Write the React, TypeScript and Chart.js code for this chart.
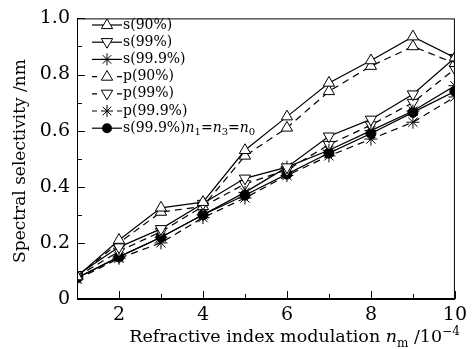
import React, { useEffect, useRef } from "react";
import { Chart, registerables } from "chart.js";

Chart.register(...registerables);

const xValues = [1, 2, 3, 4, 5, 6, 7, 8, 9, 10];
const s90 = [0.08, 0.21, 0.325, 0.345, 0.53, 0.65, 0.77, 0.85, 0.935, 0.86];
const s99 = [0.085, 0.185, 0.25, 0.34, 0.43, 0.47, 0.58, 0.64, 0.73, 0.86];
const s999 = [0.075, 0.15, 0.22, 0.3, 0.38, 0.47, 0.53, 0.6, 0.67, 0.76];
const p90 = [0.08, 0.2, 0.31, 0.33, 0.51, 0.61, 0.74, 0.83, 0.9, 0.84];
const p99 = [0.08, 0.17, 0.24, 0.33, 0.41, 0.46, 0.55, 0.62, 0.7, 0.82];
const p999 = [0.07, 0.145, 0.2, 0.29, 0.36, 0.44, 0.51, 0.57, 0.63, 0.72];
const s999n = [0.075, 0.15, 0.22, 0.3, 0.37, 0.445, 0.52, 0.59, 0.665, 0.74];

const xTickValues = [2, 4, 6, 8, 10];
const xMinorValues = [1, 3, 5, 7, 9];
const yTickValues = [0, 0.2, 0.4, 0.6, 0.8, 1.0];
const yMinorValues = [0.1, 0.3, 0.5, 0.7, 0.9];

const labels = ["s(90%)", "s(99%)", "s(99.9%)", "p(90%)", "p(99%)", "p(99.9%)", "s(99.9%)"];
const markers = ["up", "down", "star", "up", "down", "star", "circle"];
const dashedFlags = [false, false, false, true, true, true, false];
const seriesList = [s90, s99, s999, p90, p99, p999, s999n];

const SERIF = "'DejaVu Serif', 'Liberation Serif', serif";
const DASH = [7, 5];

function drawMarker(ctx: CanvasRenderingContext2D, kind: string, x: number, y: number) {
  ctx.save();
  ctx.setLineDash([]);
  ctx.lineWidth = 1;
  ctx.strokeStyle = "#000";
  const r = 6;
  if (kind === "up" || kind === "down") {
    const s = kind === "up" ? 1 : -1;
    ctx.beginPath();
    ctx.moveTo(x, y - s * r);
    ctx.lineTo(x - r * 0.95, y + s * r * 0.6);
    ctx.lineTo(x + r * 0.95, y + s * r * 0.6);
    ctx.closePath();
    ctx.fillStyle = "#fff";
    ctx.fill();
    ctx.stroke();
  } else if (kind === "star") {
    ctx.beginPath();
    for (let i = 0; i < 4; i++) {
      const a = (i * Math.PI) / 4;
      ctx.moveTo(x - Math.cos(a) * r, y - Math.sin(a) * r);
      ctx.lineTo(x + Math.cos(a) * r, y + Math.sin(a) * r);
    }
    ctx.stroke();
  } else {
    ctx.beginPath();
    ctx.arc(x, y, 5, 0, Math.PI * 2);
    ctx.fillStyle = "#000";
    ctx.fill();
  }
  ctx.restore();
}

type Run = { t: string; italic?: boolean; sub?: boolean; sup?: boolean };

function drawRuns(ctx: CanvasRenderingContext2D, runs: Run[], x: number, y: number, size: number) {
  let cx = x;
  for (const r of runs) {
    const fs = r.sub || r.sup ? Math.round(size * 0.68) : size;
    ctx.font = `${r.italic ? "italic " : ""}${fs}px ${SERIF}`;
    const dy = r.sub ? size * 0.3 : r.sup ? -size * 0.42 : 0;
    ctx.fillText(r.t, cx, y + dy);
    cx += ctx.measureText(r.t).width;
  }
  return cx;
}

const customPlugin = {
  id: "custom",
  afterDatasetsDraw(chart: any) {
    const ctx: CanvasRenderingContext2D = chart.ctx;
    const area = chart.chartArea;
    const xs = chart.scales.x;
    const ys = chart.scales.y;
    ctx.save();
    ctx.strokeStyle = "#000";
    ctx.lineWidth = 1;
    ctx.setLineDash([]);
    ctx.strokeRect(area.left + 0.5, area.top + 0.5, area.right - area.left - 1, area.bottom - area.top - 1);
    ctx.beginPath();
    for (const v of xTickValues) {
      const px = Math.round(xs.getPixelForValue(v)) + 0.5;
      ctx.moveTo(px, area.bottom);
      ctx.lineTo(px, area.bottom - 8);
    }
    for (const v of xMinorValues) {
      const px = Math.round(xs.getPixelForValue(v)) + 0.5;
      ctx.moveTo(px, area.bottom);
      ctx.lineTo(px, area.bottom - 5);
    }
    for (const v of yTickValues) {
      const py = Math.round(ys.getPixelForValue(v)) + 0.5;
      ctx.moveTo(area.left, py);
      ctx.lineTo(area.left + 8, py);
    }
    for (const v of yMinorValues) {
      const py = Math.round(ys.getPixelForValue(v)) + 0.5;
      ctx.moveTo(area.left, py);
      ctx.lineTo(area.left + 5, py);
    }
    ctx.stroke();

    // legend
    const lx0 = 92;
    const lx1 = 122;
    const ly0 = 25;
    const lstep = 17.2;
    ctx.fillStyle = "#000";
    ctx.textBaseline = "middle";
    ctx.textAlign = "left";
    labels.forEach((lab, i) => {
      const y = ly0 + i * lstep;
      ctx.save();
      ctx.lineWidth = 1.2;
      ctx.strokeStyle = "#000";
      if (dashedFlags[i]) {
        ctx.beginPath();
        ctx.moveTo(lx0, y);
        ctx.lineTo(lx0 + 5, y);
        ctx.moveTo(lx1 - 5, y);
        ctx.lineTo(lx1, y);
        ctx.stroke();
      } else {
        ctx.beginPath();
        ctx.moveTo(lx0, y);
        ctx.lineTo(lx1, y);
        ctx.stroke();
      }
      ctx.restore();
      drawMarker(ctx, markers[i], (lx0 + lx1) / 2, y);
      ctx.fillStyle = "#000";
      if (i === 6) {
        drawRuns(
          ctx,
          [
            { t: lab },
            { t: "n", italic: true },
            { t: "1", sub: true },
            { t: "=" },
            { t: "n", italic: true },
            { t: "3", sub: true },
            { t: "=" },
            { t: "n", italic: true },
            { t: "0", sub: true },
          ],
          lx1 + 1,
          y,
          14
        );
      } else {
        ctx.font = `14px ${SERIF}`;
        ctx.fillText(lab, lx1 + 1, y);
      }
    });

    // x title
    ctx.textBaseline = "alphabetic";
    const runs: Run[] = [
      { t: "Refractive index modulation " },
      { t: "n", italic: true },
      { t: "m", sub: true },
      { t: " /10" },
      { t: "\u22124", sup: true },
    ];
    let total = 0;
    for (const r of runs) {
      const fs = r.sub || r.sup ? Math.round(17.5 * 0.68) : 17.5;
      ctx.font = `${r.italic ? "italic " : ""}${fs}px ${SERIF}`;
      total += ctx.measureText(r.t).width;
    }
    const cx = (127 + 462) / 2;
    drawRuns(ctx, runs, cx - total / 2, 342, 17.5);

    // y title
    ctx.save();
    ctx.translate(21, 161);
    ctx.rotate(-Math.PI / 2);
    ctx.textAlign = "center";
    ctx.textBaseline = "middle";
    ctx.font = `17px ${SERIF}`;
    ctx.fillText("Spectral selectivity /nm", 0, 0);
    ctx.restore();

    ctx.restore();
  },
};

export default function App() {
  const ref = useRef<HTMLCanvasElement | null>(null);
  useEffect(() => {
    document.body.style.margin = "0";
    const canvas = ref.current;
    if (!canvas) return;
    const datasets = seriesList.map((arr, i) => ({
      label: labels[i],
      data: arr.map((v, j) => ({ x: xValues[j], y: v })),
      borderColor: "#000",
      borderWidth: 1.2,
      borderDash: dashedFlags[i] ? DASH : [],
      backgroundColor: markers[i] === "circle" ? "#000" : "#fff",
      pointBackgroundColor: markers[i] === "circle" ? "#000" : "#fff",
      pointBorderColor: "#000",
      pointBorderWidth: 1,
      pointStyle: markers[i] === "circle" ? "circle" : markers[i] === "star" ? "star" : "triangle",
      pointRotation: markers[i] === "down" ? 180 : 0,
      pointRadius: markers[i] === "circle" ? 5 : 6.5,
      fill: false,
      tension: 0,
    }));
    const chart = new Chart(canvas, {
      type: "line",
      data: { datasets },
      options: {
        animation: false,
        responsive: false,
        maintainAspectRatio: false,
        layout: { padding: { top: 14, right: 7, left: 0, bottom: 0 } },
        plugins: { legend: { display: false }, tooltip: { enabled: false } },
        scales: {
          x: {
            type: "linear",
            min: 1,
            max: 10,
            grid: { display: false, drawTicks: false },
            border: { display: true, color: "#000", width: 1 },
            afterBuildTicks: (s: any) => {
              s.ticks = xTickValues.map((v) => ({ value: v }));
            },
            afterFit: (s: any) => {
              s.height = 50;
            },
            ticks: {
              color: "#000",
              padding: 5,
              maxRotation: 0,
              autoSkip: false,
              font: { family: SERIF, size: 19 },
              callback: (v: any) => String(v),
            },
          },
          y: {
            type: "linear",
            min: 0,
            max: 1,
            grid: { display: false, drawTicks: false },
            border: { display: true, color: "#000", width: 1 },
            afterBuildTicks: (s: any) => {
              s.ticks = yTickValues.map((v) => ({ value: v }));
            },
            afterFit: (s: any) => {
              s.width = 77;
            },
            ticks: {
              color: "#000",
              padding: 7,
              autoSkip: false,
              font: { family: SERIF, size: 19 },
              callback: (v: any) => (Number(v) === 0 ? "0" : Number(v).toFixed(1)),
            },
          },
        },
      },
      plugins: [customPlugin],
    } as any);
    return () => chart.destroy();
  }, []);
  return <canvas ref={ref} width={472} height={349} style={{ display: "block" }} />;
}
